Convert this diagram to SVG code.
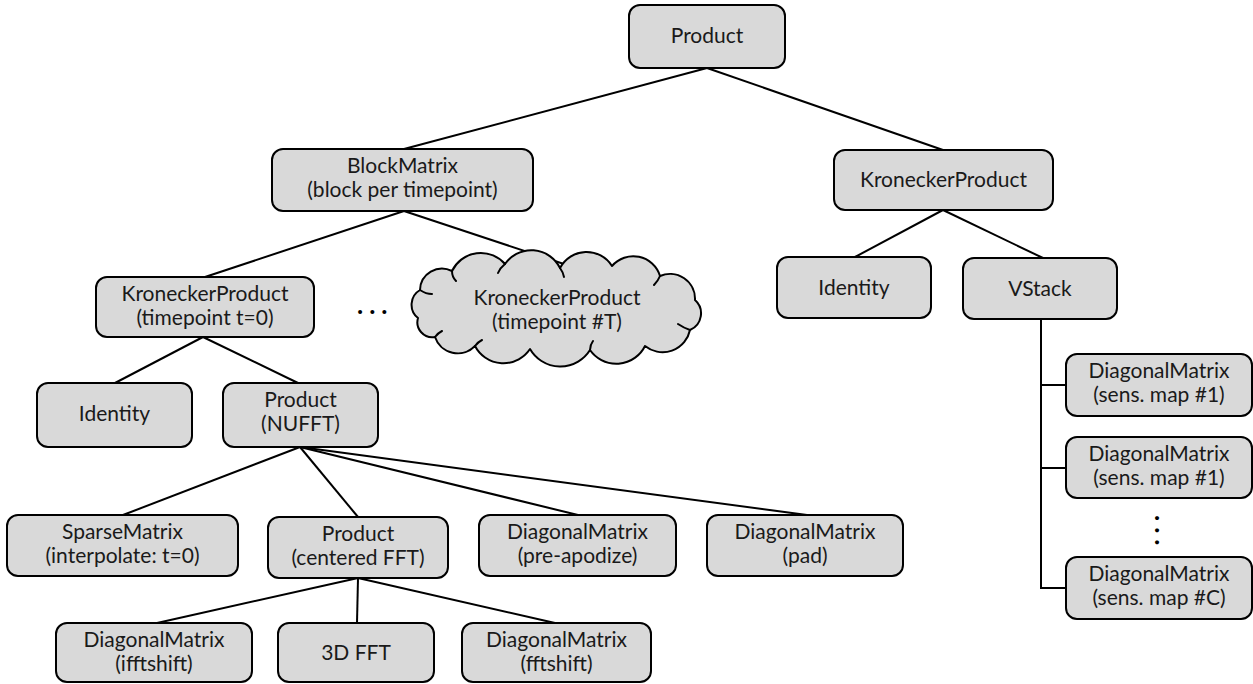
<svg xmlns="http://www.w3.org/2000/svg" width="1253" height="684" viewBox="0 0 1253 684">
  <style>
    .box { fill: #d9d9d9; stroke: #000; stroke-width: 2; }
    .cloud { fill: #d9d9d9; stroke: #000; stroke-width: 2; stroke-linejoin: round; }
    .hook { fill: none; stroke: #000; stroke-width: 2; stroke-linecap: round; }
    .lbl { font-family: Lato, "Liberation Sans", sans-serif; font-size: 21px; fill: #1a1a1a; text-anchor: middle; }
    .dots { font-family: Lato, "Liberation Sans", sans-serif; font-size: 26px; font-weight: bold; fill: #000; letter-spacing: 6px; }
    .edge { fill: none; stroke: #000; stroke-width: 2; }
  </style>
  <rect width="1253" height="684" fill="#fff"/>

  <!-- connectors -->
  <g id="connectors" class="edge">
    <line x1="707" y1="68" x2="404" y2="149"/>
    <line x1="707" y1="68" x2="943" y2="150"/>
    <line x1="404" y1="211" x2="205" y2="277"/>
    <line x1="404" y1="211" x2="573" y2="267"/>
    <line x1="943" y1="210" x2="855" y2="257"/>
    <line x1="943" y1="210" x2="1043" y2="258"/>
    <path d="M1041 319 V588 H1066 M1041 385 H1066 M1041 468 H1066"/>
    <line x1="203" y1="337" x2="115" y2="383"/>
    <line x1="203" y1="337" x2="298" y2="383"/>
    <line x1="300" y1="447" x2="123" y2="515"/>
    <line x1="300" y1="447" x2="358" y2="517"/>
    <line x1="300" y1="447" x2="578" y2="515"/>
    <line x1="300" y1="447" x2="807" y2="515"/>
    <line x1="358" y1="578" x2="157" y2="623"/>
    <line x1="358" y1="578" x2="357" y2="623"/>
    <line x1="358" y1="578" x2="555" y2="623"/>
  </g>

  <!-- root -->
  <g id="product-root">
    <rect class="box" x="629" y="5" width="156" height="63" rx="11"/>
    <text class="lbl" x="707" y="43">Product</text>
  </g>

  <g id="blockmatrix">
    <rect class="box" x="272" y="149" width="261" height="62" rx="11"/>
    <text class="lbl" x="402.5" y="173">BlockMatrix</text>
    <text class="lbl" x="402.5" y="197">(block per timepoint)</text>
  </g>

  <g id="kronecker-right">
    <rect class="box" x="834" y="150" width="219" height="60" rx="11"/>
    <text class="lbl" x="943.5" y="187">KroneckerProduct</text>
  </g>

  <g id="identity-right">
    <rect class="box" x="777" y="257" width="154" height="61" rx="11"/>
    <text class="lbl" x="854" y="295">Identity</text>
  </g>

  <g id="vstack">
    <rect class="box" x="963" y="258" width="154" height="61" rx="11"/>
    <text class="lbl" x="1040" y="296">VStack</text>
  </g>

  <g id="sens-map-1a">
    <rect class="box" x="1066" y="354" width="186" height="62" rx="11"/>
    <text class="lbl" x="1159" y="378">DiagonalMatrix</text>
    <text class="lbl" x="1159" y="402">(sens. map #1)</text>
  </g>

  <g id="sens-map-1b">
    <rect class="box" x="1066" y="437" width="186" height="61" rx="11"/>
    <text class="lbl" x="1159" y="461">DiagonalMatrix</text>
    <text class="lbl" x="1159" y="485">(sens. map #1)</text>
  </g>

  <!-- vertical ellipsis between the sensitivity maps -->
  <text class="dots" x="1140" y="530" transform="rotate(90 1155 530)">...</text>

  <g id="sens-map-c">
    <rect class="box" x="1066" y="557" width="186" height="62" rx="11"/>
    <text class="lbl" x="1159" y="581">DiagonalMatrix</text>
    <text class="lbl" x="1159" y="605">(sens. map #C)</text>
  </g>

  <g id="kronecker-t0">
    <rect class="box" x="96" y="277" width="218" height="60" rx="11"/>
    <text class="lbl" x="205" y="301">KroneckerProduct</text>
    <text class="lbl" x="205" y="325">(timepoint t=0)</text>
  </g>

  <!-- horizontal ellipsis between timepoints -->
  <text class="dots" x="357" y="314">...</text>

  <g id="kronecker-tT">
    <path class="cloud" d="M418 318
      A17 17 0 0 1 420 290
      A22 22 0 0 1 452 271
      A32 32 0 0 1 505 264
      A32 32 0 0 1 560 268
      A30 30 0 0 1 612 266
      A28 28 0 0 1 660 276
      A25 25 0 0 1 695 300
      A18 18 0 0 1 690 330
      A28 28 0 0 1 645 346
      A32 32 0 0 1 590 350
      A35 35 0 0 1 530 349
      A32 32 0 0 1 475 346
      A24 24 0 0 1 435 337
      A15 15 0 0 1 418 318 Z"/>
    <path class="hook" d="M420 290 Q426 294 432 294 M452 271 Q452 277 456 281 M505 264 Q500 268 498 273 M560 268 Q563 272 564 277 M660 276 Q658 281 654 285 M690 330 Q684 328 678 324 M590 350 Q590 345 593 341 M475 346 Q478 342 482 340 M435 337 Q438 333 442 331"/>
    <text class="lbl" x="557" y="305">KroneckerProduct</text>
    <text class="lbl" x="557" y="329">(timepoint #T)</text>
  </g>

  <g id="identity-left">
    <rect class="box" x="37" y="383" width="155" height="64" rx="11"/>
    <text class="lbl" x="114.5" y="421">Identity</text>
  </g>

  <g id="product-nufft">
    <rect class="box" x="223" y="383" width="155" height="64" rx="11"/>
    <text class="lbl" x="300.5" y="407">Product</text>
    <text class="lbl" x="300.5" y="431">(NUFFT)</text>
  </g>

  <g id="sparse-interp">
    <rect class="box" x="7" y="515" width="231" height="61" rx="11"/>
    <text class="lbl" x="122.5" y="539">SparseMatrix</text>
    <text class="lbl" x="122.5" y="563">(interpolate: t=0)</text>
  </g>

  <g id="product-fft">
    <rect class="box" x="268" y="517" width="180" height="61" rx="11"/>
    <text class="lbl" x="358" y="541">Product</text>
    <text class="lbl" x="358" y="565">(centered FFT)</text>
  </g>

  <g id="diag-apodize">
    <rect class="box" x="479" y="515" width="197" height="61" rx="11"/>
    <text class="lbl" x="577.5" y="539">DiagonalMatrix</text>
    <text class="lbl" x="577.5" y="563">(pre-apodize)</text>
  </g>

  <g id="diag-pad">
    <rect class="box" x="707" y="515" width="196" height="61" rx="11"/>
    <text class="lbl" x="805" y="539">DiagonalMatrix</text>
    <text class="lbl" x="805" y="563">(pad)</text>
  </g>

  <g id="diag-ifftshift">
    <rect class="box" x="56" y="623" width="196" height="59" rx="11"/>
    <text class="lbl" x="154" y="647">DiagonalMatrix</text>
    <text class="lbl" x="154" y="671">(ifftshift)</text>
  </g>

  <g id="fft3d">
    <rect class="box" x="278" y="623" width="156" height="59" rx="11"/>
    <text class="lbl" x="356" y="660">3D FFT</text>
  </g>

  <g id="diag-fftshift">
    <rect class="box" x="462" y="623" width="189" height="59" rx="11"/>
    <text class="lbl" x="556.5" y="647">DiagonalMatrix</text>
    <text class="lbl" x="556.5" y="671">(fftshift)</text>
  </g>
</svg>
